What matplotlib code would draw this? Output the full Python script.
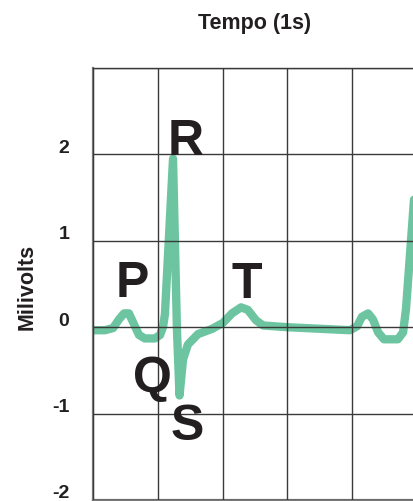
import matplotlib
matplotlib.use("Agg")
import matplotlib.pyplot as plt
import matplotlib.transforms as mtransforms

# ECG trace: time (s) and voltage (mV)
t = [0.000, 0.037, 0.062, 0.080, 0.096, 0.111, 0.127, 0.142, 0.160, 0.191,
     0.207, 0.216, 0.222, 0.247, 0.259, 0.267, 0.278, 0.293, 0.324, 0.367,
     0.401, 0.429, 0.457, 0.478, 0.503, 0.525, 0.599, 0.793, 0.815, 0.830,
     0.849, 0.864, 0.880, 0.898, 0.941, 0.957, 0.966, 1.000]
mv = [-0.035, -0.035, -0.01, 0.09, 0.16, 0.16, 0.03, -0.09, -0.13, -0.13,
      -0.09, 0.0, 0.15, 1.95, -0.02, -0.79, -0.37, -0.20, -0.08, -0.02,
      0.05, 0.16, 0.23, 0.20, 0.08, 0.02, 0.0, -0.035, 0.01, 0.12,
      0.16, 0.09, -0.06, -0.14, -0.14, -0.06, 0.21, 1.95]

# Wave labels
wave_labels = ["P", "Q", "R", "S", "T"]
wave_t = [0.120, 0.182, 0.287, 0.290, 0.475]
wave_mv = [0.358, -0.74, 2.0, -1.295, 0.347]

y_ticks = [-2, -1, 0, 1, 2, 3]
y_tick_labels = ["-2", "-1", "0", "1", "2", ""]
x_grid = [0.0, 0.2, 0.4, 0.6, 0.8, 1.0]

plt.rcParams["font.family"] = ["Liberation Sans", "DejaVu Sans"]

W, H = 414, 502
fig = plt.figure(figsize=(W / 100, H / 100), dpi=100)
ax = fig.add_axes([93 / W, 1 / H, 324 / W, (501 - 69) / H])

green = "#6cc5a0"
ink = "#231f20"

ax.plot(t, mv, color=green, lw=6, solid_joinstyle="round",
        solid_capstyle="round", zorder=1)

ax.set_xlim(0, 1.0)
ax.set_ylim(-2, 3)
ax.set_xticks(x_grid)
ax.set_xticklabels([])
ax.set_yticks(y_ticks)
ax.set_yticklabels(y_tick_labels)
ax.set_axisbelow(False)
ax.grid(True, color="#3a3a3a", lw=1.0, zorder=2)
ax.tick_params(length=0, labelsize=14, pad=17)

offset = mtransforms.ScaledTranslation(0, 2.5 / 100, fig.dpi_scale_trans)
for lab in ax.get_yticklabels():
    lab.set_fontweight("bold")
    lab.set_color(ink)
    lab.set_va("baseline")
    lab.set_transform(lab.get_transform() + offset)

for side in ["left", "bottom"]:
    ax.spines[side].set_color("#777777")
    ax.spines[side].set_linewidth(1.6)
ax.spines["top"].set_color("#3a3a3a")
ax.spines["top"].set_linewidth(1.0)
ax.spines["right"].set_visible(False)

for lab, x, y in zip(wave_labels, wave_t, wave_mv):
    ax.text(x, y, lab, fontsize=36, fontweight="bold", color=ink,
            ha="center", va="baseline", zorder=5, clip_on=False)

fig.text(255 / W, 1 - 29 / H, "Tempo (1s)", fontsize=15.5, fontweight="bold",
         color=ink, ha="center", va="baseline")
fig.text(27 / W, 1 - 287 / H, "Milivolts", fontsize=15.5, fontweight="bold",
         color=ink, ha="center", va="center", rotation=90)

fig.savefig("out.png", dpi=100)
